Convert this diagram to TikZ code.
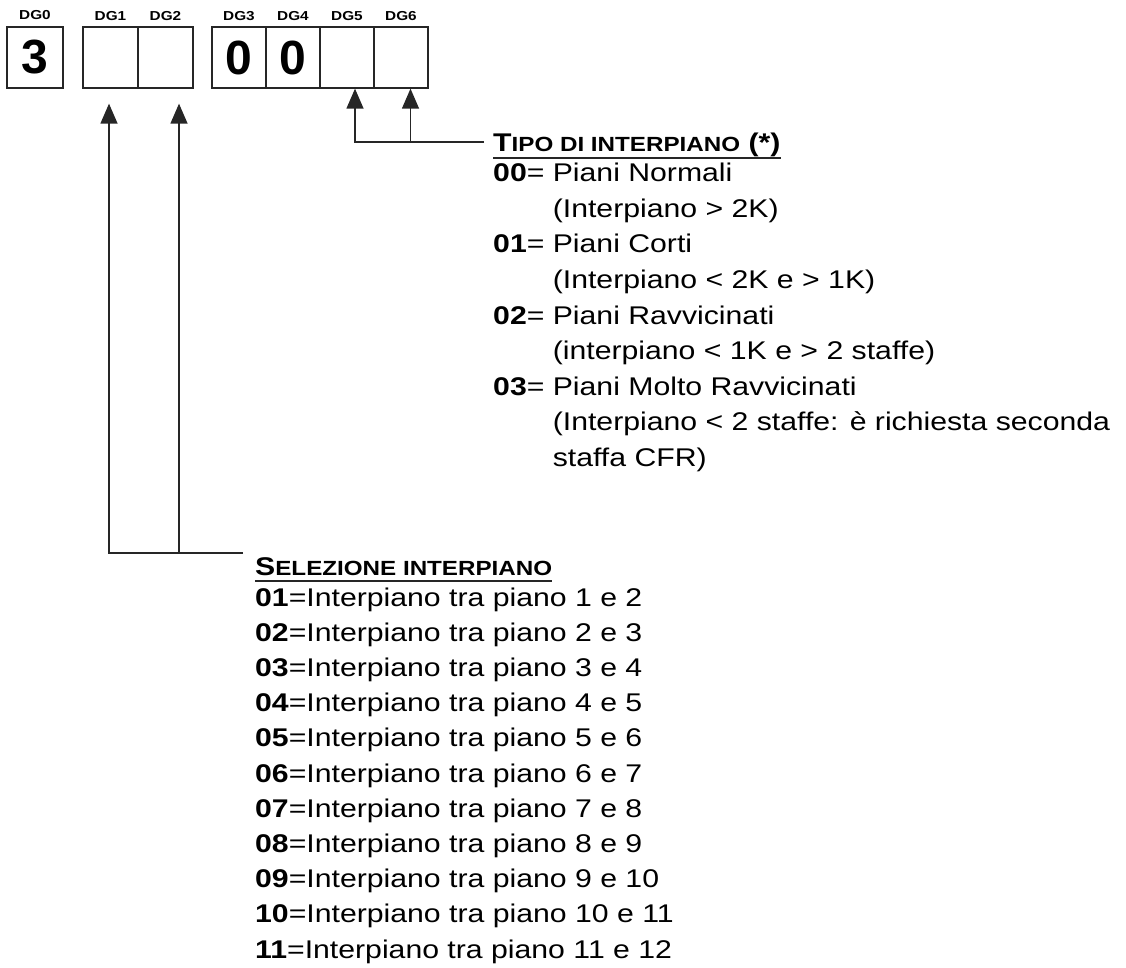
\documentclass[tikz,border=0pt]{standalone}
\usepackage{fontspec}
\setmainfont{Liberation Sans}[FakeStretch=1.18]
\newfontfamily\digitfont{Liberation Sans}
\usetikzlibrary{arrows.meta,positioning}

\newcommand\bodysize{\fontsize{25.6}{35.5}\selectfont}
\newcommand\hdsc[2]{{\fontsize{25.6}{30}\selectfont#1}{\fontsize{20.5}{30}\selectfont#2}}
\newcommand\ind{\phantom{\textbf{00}= }}

\begin{document}
\begin{tikzpicture}[x=1pt,y=-1pt,
  cell/.style={draw=black!85, line width=1.3pt, minimum width=54pt, minimum height=61pt, inner sep=0pt,
    font=\digitfont\bfseries\fontsize{48}{48}\selectfont},
  dglbl/.style={inner sep=0pt, font=\bfseries\fontsize{13}{13}\selectfont},
  item/.style={anchor=base west, inner sep=0pt, font=\bodysize},
  head/.style={item, font=\bodysize\bfseries},
  uline/.style={line width=1.6pt, draw=black!85},
  arr/.style={-{Triangle[length=20pt,width=17pt]}, line width=1.3pt, draw=black!85}
]
\useasboundingbox (0,0) rectangle (1126,968);

% code cells
\node[cell, minimum width=56pt, line width=2pt] at (35,57.5) (dg0) {3};
\node[cell, minimum width=55pt] at (110.5,57.5) (dg1) {};
\node[cell, minimum width=55pt] at (165.5,57.5) (dg2) {};
\node[cell] at (239,57.5) (dg3) {0};
\node[cell] at (293,57.5) (dg4) {0};
\node[cell] at (347,57.5) (dg5) {};
\node[cell] at (401,57.5) (dg6) {};
\foreach \i in {0,...,6}
  \node[dglbl, above=6pt of dg\i] (lbl\i) {DG\i};

% floor type
\node[head] at (493,152) (tipohd) {\hdsc{T}{IPO DI INTERPIANO} (*)};
\draw[uline] ([yshift=-6pt]tipohd.base west) -- ([yshift=-6pt]tipohd.base east);
\node[item] at (493,182)   (t00)  {\textbf{00}= Piani Normali};
\node[item] at (493,217.5) (t00b) {\ind(Interpiano > 2K)};
\node[item] at (493,253)   (t01)  {\textbf{01}= Piani Corti};
\node[item] at (493,288.5) (t01b) {\ind(Interpiano < 2K e > 1K)};
\node[item] at (493,324)   (t02)  {\textbf{02}= Piani Ravvicinati};
\node[item] at (493,359.5) (t02b) {\ind(interpiano < 1K e > 2 staffe)};
\node[item] at (493,395)   (t03)  {\textbf{03}= Piani Molto Ravvicinati};
\node[item] at (493,430.5) (t03b) {\ind(Interpiano < 2 staffe: è richiesta seconda};
\node[item] at (493,466)   (t03c) {\ind staffa CFR)};

% floor selection
\node[head] at (255,575) (selhd) {\hdsc{S}{ELEZIONE INTERPIANO}};
\draw[uline] ([yshift=-6pt]selhd.base west) -- ([yshift=-6pt]selhd.base east);
\foreach \k in {1,...,11}{
  \pgfmathtruncatemacro\nx{\k+1}
  \node[item] at (255,570.8+35.2*\k) (s\k) {\textbf{\ifnum\k<10 0\fi\k}=Interpiano tra piano \k{} e \nx};
}

% connectors
\coordinate (jt) at ([shift={(-9pt,10pt)}]tipohd.base west);
\coordinate (a5) at ([xshift=8pt]dg5.south);
\coordinate (a6) at ([xshift=9.5pt]dg6.south);
\draw[arr] (jt) -| (a5);
\draw[arr] (a6 |- jt) -- (a6);

\coordinate (js) at ([shift={(-12pt,22pt)}]selhd.base west);
\coordinate (a1) at ([shift={(-1.5pt,-15pt)}]dg1.south);
\coordinate (a2) at ([shift={(13.5pt,-15pt)}]dg2.south);
\draw[arr] (js) -| (a1);
\draw[arr] (a2 |- js) -- (a2);
\end{tikzpicture}
\end{document}
